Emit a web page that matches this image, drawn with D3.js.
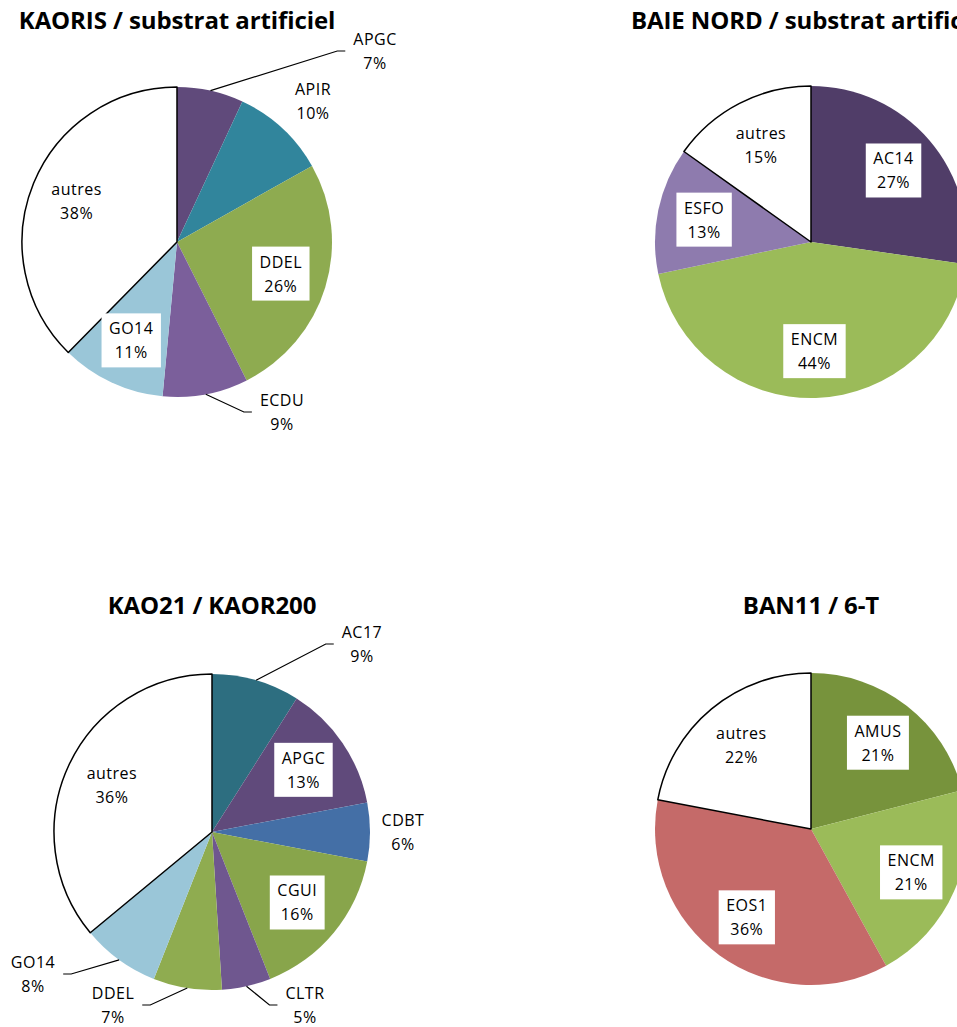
<!DOCTYPE html>
<html>
<head>
<meta charset="utf-8">
<script src="https://cdn.jsdelivr.net/npm/d3@7"></script>
<style>
  body { margin: 0; background: #fff; }
  svg { display: block; }
</style>
</head>
<body>
<svg id="chart" width="957" height="1027"></svg>
<script>
// data
const kaorisLabels = ["APGC", "APIR", "DDEL", "ECDU", "GO14", "autres"];
const kaorisValues = [7, 10, 26, 9, 11, 38];
const kaorisColors = ["#604a7b", "#31859c", "#8eab50", "#7b5f9b", "#9ac6d8", "#ffffff"];

const baieLabels = ["AC14", "ENCM", "ESFO", "autres"];
const baieValues = [27, 44, 13, 15];
const baieColors = ["#503d68", "#9bbb59", "#8e7bae", "#ffffff"];

const kao21Labels = ["AC17", "APGC", "CDBT", "CGUI", "CLTR", "DDEL", "GO14", "autres"];
const kao21Values = [9, 13, 6, 16, 5, 7, 8, 36];
const kao21Colors = ["#2d6e80", "#604a7b", "#446fa6", "#88a54b", "#6f578f", "#8fac50", "#9ac6d8", "#ffffff"];

const ban11Labels = ["AMUS", "ENCM", "EOS1", "autres"];
const ban11Values = [21, 21, 36, 22];
const ban11Colors = ["#77933c", "#9bbb59", "#c56a69", "#ffffff"];

// layout: outside labels are [dx, dy, leader line] from the pie centre
const charts = [
    {title: "KAORIS / substrat artificiel", labels: kaorisLabels, values: kaorisValues, colors: kaorisColors,
     cx: 177, cy: 242, r: 155, titleY: 29,
     outside: {APGC: [198, -191, true], APIR: [136, -141, false], ECDU: [105, 170, true]}},
    {title: "BAIE NORD / substrat artificiel", labels: baieLabels, values: baieValues, colors: baieColors,
     cx: 811, cy: 242, r: 156, titleY: 29, outside: {}},
    {title: "KAO21 / KAOR200", labels: kao21Labels, values: kao21Values, colors: kao21Colors,
     cx: 212, cy: 832, r: 158, titleY: 614,
     outside: {AC17: [150, -188, true], CDBT: [191, 0, false], CLTR: [93, 173, true],
               DDEL: [-99, 173, true], GO14: [-179, 142, true]}},
    {title: "BAN11 / 6-T", labels: ban11Labels, values: ban11Values, colors: ban11Colors,
     cx: 811, cy: 829, r: 156, titleY: 614, outside: {}}
];

const svg = d3.select("#chart");
const labelFont = "'Open Sans', sans-serif";

const pie = d3.pie().sort(null).value(d => d.value);

function drawPie(c) {
    const data = c.labels.map((l, i) => ({label: l, value: c.values[i], color: c.colors[i]}));
    const arcs = pie(data);

    svg.append("text")
        .attr("x", c.cx)
        .attr("y", c.titleY)
        .attr("text-anchor", "middle")
        .attr("font-family", "'Open Sans', sans-serif")
        .attr("font-weight", "bold")
        .attr("font-size", 24)
        .attr("letter-spacing", -0.1)
        .attr("fill", "#000")
        .text(c.title);

    const g = svg.append("g").attr("transform", `translate(${c.cx},${c.cy})`);
    const arc = d3.arc().innerRadius(0).outerRadius(c.r);
    const inner = d3.arc().innerRadius(c.r * 0.7).outerRadius(c.r * 0.7);

    g.selectAll("path.slice")
        .data(arcs)
        .join("path")
        .attr("class", "slice")
        .attr("d", arc)
        .attr("fill", d => d.data.color)
        .attr("stroke", d => d.data.color == "#ffffff" ? "#000" : "none")
        .attr("stroke-width", 1.5)
        .attr("stroke-linejoin", "round");

    arcs.forEach(a => {
        const out = c.outside[a.data.label];
        let x, y;
        if (out) {
            x = out[0];
            y = out[1];
        } else {
            [x, y] = inner.centroid(a);
        }
        const lg = g.append("g").attr("transform", `translate(${x},${y})`);
        const t = lg.append("text")
            .attr("text-anchor", "middle")
            .attr("font-family", labelFont)
            .attr("font-size", 16)
            .attr("letter-spacing", 0.5)
            .attr("fill", "#000");
        t.append("tspan").attr("x", 0).attr("y", -6).text(a.data.label);
        t.append("tspan").attr("x", 0).attr("y", 18).text(a.data.value + "%");
        const w = t.node().getBBox().width;

        if (!out && a.data.color != "#ffffff") {
            lg.insert("rect", "text")
                .attr("x", -w / 2 - 7.5)
                .attr("y", -27)
                .attr("width", w + 15)
                .attr("height", 54)
                .attr("fill", "#fff");
        }

        if (out && out[2]) {
            const m = (a.startAngle + a.endAngle) / 2;
            const sx = c.r * Math.sin(m), sy = -c.r * Math.cos(m);
            const dir = x > sx ? 1 : -1;
            const endX = x - dir * (w / 2 + 8);
            const elbowX = endX - dir * 8;
            g.append("path")
                .attr("d", `M${sx},${sy}L${elbowX},${y}L${endX},${y}`)
                .attr("fill", "none")
                .attr("stroke", "#000")
                .attr("stroke-width", 1.2);
        }
    });
}

charts.forEach(drawPie);
</script>
</body>
</html>
